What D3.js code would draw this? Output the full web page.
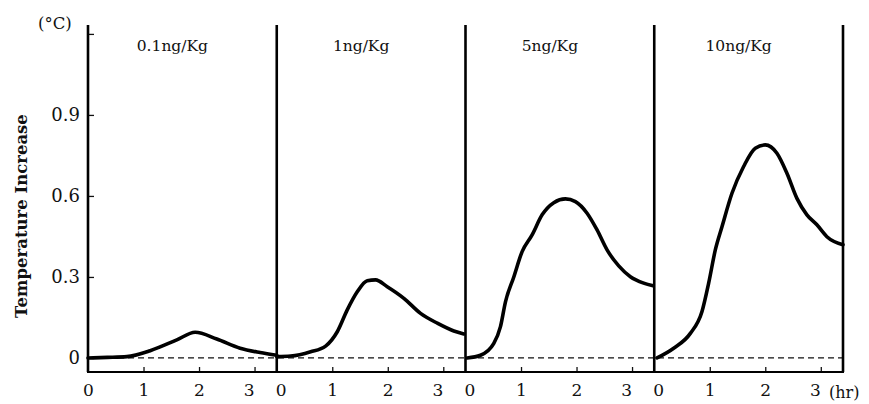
<!DOCTYPE html>
<html>
<head>
<meta charset="utf-8">
<script src="https://cdn.jsdelivr.net/npm/d3@7"></script>
<style>
  body { margin: 0; background: #fff; }
  svg { display: block; }
  text { font-family: "DejaVu Serif", serif; fill: #111; }
</style>
</head>
<body>
<script>
// doses, one panel per dose
const doses = ["0.1ng/Kg", "1ng/Kg", "5ng/Kg", "10ng/Kg"];
const yTicks = [0, 0.3, 0.6, 0.9, 1.2];
const xTicks = [0, 1, 2, 3];

// hours and temperature rise (°C)
const hours01 = [0, 0.35, 0.7, 1.12, 1.6, 1.93, 2.32, 2.74, 3.1, 3.4];
const temp01  = [0, 0.002, 0.005, 0.027, 0.067, 0.095, 0.07, 0.036, 0.02, 0.01];

const hours1 = [0, 0.25, 0.61, 0.88, 1.09, 1.27, 1.45, 1.63, 1.78, 1.99, 2.29, 2.59, 2.9, 3.19, 3.37];
const temp1  = [0.005, 0.007, 0.023, 0.044, 0.097, 0.178, 0.245, 0.286, 0.289, 0.264, 0.221, 0.165, 0.128, 0.1, 0.089];

const hours5 = [0.03, 0.27, 0.51, 0.63, 0.72, 0.87, 1.02, 1.2, 1.38, 1.59, 1.8, 1.98, 2.19, 2.37, 2.55, 2.76, 2.97, 3.21, 3.38];
const temp5  = [0, 0.01, 0.054, 0.116, 0.208, 0.3, 0.394, 0.456, 0.53, 0.575, 0.589, 0.579, 0.536, 0.474, 0.4, 0.341, 0.301, 0.277, 0.267];

const hours10 = [0.05, 0.35, 0.65, 0.86, 0.98, 1.1, 1.22, 1.4, 1.61, 1.82, 2.0, 2.21, 2.39, 2.57, 2.75, 2.93, 3.11, 3.4];
const temp10  = [0, 0.036, 0.091, 0.172, 0.277, 0.4, 0.486, 0.61, 0.709, 0.777, 0.789, 0.758, 0.684, 0.591, 0.53, 0.493, 0.449, 0.419];

const series = [
  { hours: hours01, temp: temp01 },
  { hours: hours1, temp: temp1 },
  { hours: hours5, temp: temp5 },
  { hours: hours10, temp: temp10 }
];

const width = 869, height = 404;
const plotLeft = 88, plotRight = 843, plotTop = 25, plotBottom = 372;

const svg = d3.select("body").append("svg").attr("width", width).attr("height", height);

const panel = d3.scaleBand().domain(doses).range([plotLeft, plotRight]).padding(0);
const xScale = d3.scaleLinear().domain([0, 3.4]).range([0, panel.bandwidth()]);
const yScale = d3.scaleLinear().domain([-0.052, 1.233]).range([plotBottom, plotTop]);

// y axis
const yAxis = svg.append("g")
  .attr("transform", `translate(${plotLeft},0)`)
  .call(d3.axisLeft(yScale).tickValues(yTicks).tickSize(-6).tickPadding(8)
    .tickFormat(d => d === 1.2 ? "" : (d === 0 ? "0" : d3.format(".1f")(d))));
yAxis.select(".domain").remove();
yAxis.selectAll("line").attr("stroke", "#111").attr("stroke-width", 1.3);
yAxis.selectAll("text").attr("font-size", 18).style("font-family", "DejaVu Serif");

// zero reference line
svg.append("line")
  .attr("x1", plotLeft).attr("x2", plotRight)
  .attr("y1", yScale(0)).attr("y2", yScale(0))
  .attr("stroke", "#111").attr("stroke-width", 1.2)
  .attr("stroke-dasharray", "6,4");

const line = d3.line()
  .x(d => d[0]).y(d => d[1])
  .curve(d3.curveMonotoneX);

doses.forEach((dose, i) => {
  const x0 = panel(dose);
  const g = svg.append("g").attr("transform", `translate(${x0},0)`);

  // x axis ticks for this panel
  const xa = g.append("g")
    .attr("transform", `translate(0,${plotBottom})`)
    .call(d3.axisBottom(xScale).tickValues(xTicks).tickSize(-5).tickPadding(12).tickFormat(d3.format("d")));
  xa.select(".domain").remove();
  xa.selectAll("line").attr("stroke", "#111").attr("stroke-width", 1.3);
  xa.selectAll("text").attr("font-size", 17).style("font-family", "DejaVu Serif");
  xa.selectAll(".tick").filter(d => d === 0).select("line").remove();
  xa.selectAll(".tick").filter(d => d === 3).select("text").attr("dx", -6);
  xa.selectAll(".tick").filter(d => d === 0).select("text").attr("dx", i === 0 ? 0 : 4);

  // dose label
  g.append("text")
    .attr("x", panel.bandwidth() / 2 - 10)
    .attr("y", 51)
    .attr("text-anchor", "middle")
    .attr("font-size", 15.5)
    .text(dose);

  // curve
  const s = series[i];
  const pts = s.hours.map((h, k) => [xScale(h), yScale(s.temp[k])]);
  g.append("path")
    .attr("d", line(pts))
    .attr("fill", "none")
    .attr("stroke", "#000")
    .attr("stroke-width", 3.6)
    .attr("stroke-linejoin", "round")
    .attr("stroke-linecap", "round");
});

// panel frame: vertical dividers and bottom line
const edges = doses.map(d => panel(d)).concat([plotRight]);
svg.selectAll(".divider").data(edges).enter().append("line")
  .attr("class", "divider")
  .attr("x1", d => d).attr("x2", d => d)
  .attr("y1", plotTop).attr("y2", plotBottom)
  .attr("stroke", "#000").attr("stroke-width", 2.6);

svg.append("line")
  .attr("x1", plotLeft - 1).attr("x2", plotRight + 1)
  .attr("y1", plotBottom).attr("y2", plotBottom)
  .attr("stroke", "#000").attr("stroke-width", 2.2);

// units
svg.append("text").attr("x", 38).attr("y", 29).attr("font-size", 16.5).text("(°C)");
svg.append("text").attr("x", 829).attr("y", 398).attr("font-size", 16).text("(hr)");

// y title
svg.append("text")
  .attr("transform", "translate(27,216) rotate(-90)")
  .attr("text-anchor", "middle")
  .attr("font-size", 16.5)
  .attr("font-weight", "bold")
  .text("Temperature Increase");
</script>
</body>
</html>
